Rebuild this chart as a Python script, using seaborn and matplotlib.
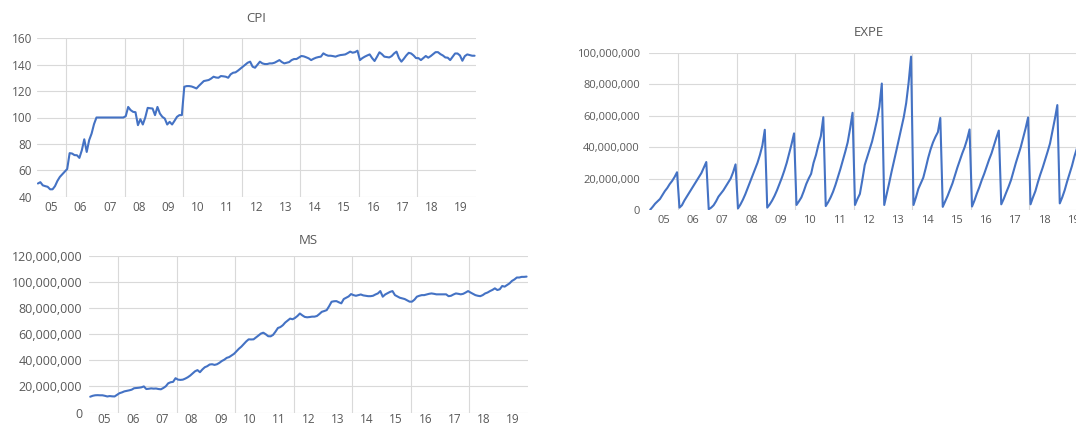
import numpy as np
import pandas as pd
import matplotlib
matplotlib.use("Agg")
import matplotlib.pyplot as plt
from matplotlib.ticker import FuncFormatter, FixedLocator
import seaborn as sns

# ---------------- data (monthly, Jan 2005 onward) ----------------
year_labels = ["05", "06", "07", "08", "09", "10", "11", "12",
               "13", "14", "15", "16", "17", "18", "19"]

cpi = [
    50, 51, 48.6, 48, 47.5, 45.6, 45.6, 48, 52, 55, 57, 59,            # 2005
    61, 73, 72.7, 71.5, 71.4, 69.4, 75.2, 83.5, 73.9, 82.8, 87.8, 95,   # 2006
    100, 100, 100, 100, 100, 100, 100, 100, 100, 100, 100, 100,        # 2007
    101, 108, 105.6, 104.3, 104, 94.2, 98.7, 94.7, 100, 107.3, 107, 106.8,  # 2008
    101.8, 108, 103, 100.5, 99.2, 94.7, 96.7, 94.7, 97.5, 100.5, 101.8, 101.8,  # 2009
    123.3, 123.8, 123.8, 123.5, 122.8, 122, 124, 125.8, 127.6, 128, 128.4, 129.5,  # 2010
    130.9, 130.3, 130.1, 131.4, 131.2, 130.9, 130.1, 132.7, 133.9, 134.2, 135.5, 137,  # 2011
    138.5, 140, 141.5, 142.3, 138.5, 137.7, 140, 142.3, 141, 140.5, 140.5, 141,  # 2012
    141, 141.5, 142.5, 143.5, 142, 141, 141.5, 142, 143.5, 144.3, 144.3, 145.5,  # 2013
    146.6, 146.3, 145.6, 144.8, 143.5, 144.5, 145.3, 145.8, 146.1, 148.6, 147.5, 146.8,  # 2014
    146.8, 146.5, 146.1, 146.8, 147.3, 147.5, 147.8, 148.8, 149.9, 149.1, 149.5, 150.6,  # 2015
    143.5, 145, 146.1, 147, 147.8, 145, 142.8, 146, 149.4, 148, 146.1, 145.8,  # 2016
    145.5, 146.5, 148.5, 149.9, 145, 142.3, 144.5, 147, 149, 148.5, 147, 145,  # 2017
    145, 143.5, 145, 146.6, 145.3, 146.5, 148, 149.5, 149.5, 148, 147, 145.5,  # 2018
    145.3, 143.5, 146, 148.5, 148.5, 147, 143, 146.5, 147.8, 147.3, 146.8, 146.8,  # 2019
]

expe_millions = [
    0.2, 2, 4, 5.5, 7, 9.5, 12, 14, 16.5, 18.5, 21, 24,          # 2005
    1.5, 3, 6, 8.5, 11, 13.5, 16, 18.5, 21, 23.5, 27, 30.5,      # 2006
    0.5, 1.5, 3, 5.5, 8.5, 10.5, 12.5, 15, 17.5, 20, 24, 29,     # 2007
    1, 3.5, 6.5, 10, 14, 18, 22, 26, 30, 35, 41, 51,             # 2008
    1.5, 3.5, 6, 9, 12.5, 16.5, 20.5, 25, 30, 36, 42, 48.7,      # 2009
    3.2, 5.5, 8, 12, 16.5, 20, 23, 30, 35, 41.5, 47, 59,         # 2010
    2.5, 5, 8, 11.6, 16, 21, 26, 31.5, 37, 43, 51.9, 61.8,       # 2011
    3.2, 7, 10.2, 19, 28.6, 33.5, 38.5, 43.5, 50, 57, 65.6, 80.4,  # 2012
    3.2, 10, 17, 24.3, 31, 38, 45, 52, 59, 68, 81, 97.5,         # 2013
    3.2, 8, 13.5, 17, 20.5, 26.5, 33, 38.5, 43, 46.5, 49.5, 58.5,  # 2014
    2, 5.5, 9, 13, 17, 22, 27, 31.5, 36, 40, 45, 51.2,           # 2015
    2.2, 6, 10.5, 14.5, 19, 23, 27.5, 32, 36, 41, 46, 50.5,      # 2016
    3.6, 7, 11, 14.8, 19, 24.5, 30, 35, 40, 46, 52, 58.8,        # 2017
    3.6, 8, 12, 17.5, 22.5, 27, 32, 37, 42.3, 50, 58, 66.7,      # 2018
    4.2, 8, 12.5, 18, 23, 28, 34, 39,                            # 2019 (visible part)
]

ms_millions = [
    12.1, 12.8, 13.2, 13.3, 13.2, 13.2, 12.8, 12.3, 12.6, 12.4, 12.3, 13.5,  # 2005
    14.8, 15.4, 16.2, 16.6, 17.0, 17.5, 18.6, 18.8, 19.0, 19.3, 20.0, 18.0,  # 2006
    18.2, 18.5, 18.3, 18.4, 18.0, 17.8, 18.8, 20.1, 22.4, 23.2, 23.5, 26.3,  # 2007
    25.2, 25.0, 25.2, 26.0, 27.0, 28.3, 30.0, 31.6, 32.5, 30.9, 33.0, 34.7,  # 2008
    35.5, 36.8, 37.0, 36.5, 37.0, 38.1, 39.5, 40.5, 41.9, 42.5, 43.7, 45.0,  # 2009
    47.0, 48.9, 50.5, 52.5, 54.5, 56.1, 56.0, 56.1, 57.5, 59.0, 60.5, 61.2,  # 2010
    60.0, 58.5, 58.4, 59.5, 62.0, 64.8, 65.5, 66.9, 69.0, 70.5, 72.0, 71.5,  # 2011
    72.5, 74.0, 75.9, 74.5, 73.3, 73.0, 73.2, 73.5, 73.5, 74.0, 75.5, 77.2,  # 2012
    77.8, 78.5, 81.5, 84.9, 85.3, 85.4, 84.5, 83.7, 87.0, 88.0, 89.0, 90.8,  # 2013
    90.0, 89.5, 90.0, 90.5, 89.8, 89.5, 89.2, 89.2, 89.5, 90.5, 91.3, 93.1,  # 2014
    88.8, 90.5, 91.5, 92.5, 93.1, 90.0, 89.0, 88.0, 87.5, 87.0, 86.0, 85.0,  # 2015
    85.0, 86.5, 88.8, 89.5, 90.0, 90.0, 90.5, 91.0, 91.3, 91.0, 90.6, 90.6,  # 2016
    90.6, 90.6, 90.6, 89.2, 89.5, 90.5, 91.3, 91.0, 90.6, 91.0, 92.0, 93.1,  # 2017
    92.0, 91.0, 90.0, 89.5, 89.2, 90.0, 91.3, 92.0, 93.1, 94.0, 95.2, 93.9,  # 2018
    94.5, 97.0, 96.5, 97.8, 99.0, 100.9, 102.0, 103.5, 103.5, 104.0, 104.0, 104.2,  # 2019
]

# ---------------- style ----------------
sns.set_style("white")
plt.rcParams["font.family"] = ["Open Sans", "DejaVu Sans"]

LINE = "#4472C4"
GRID = "#D9D9D9"
TEXT = "#595959"

n_months = len(year_labels) * 12
year_centers = [12 * i + 5.5 for i in range(len(year_labels))]
grid_bounds = [12 * i - 0.5 for i in range(1, len(year_labels), 2)]

fig = plt.figure(figsize=(10.76, 4.29), dpi=100)


def make_df(values, scale=1.0):
    return pd.DataFrame({"month": np.arange(len(values)),
                         "value": np.asarray(values, dtype=float) * scale})


def style(ax, ylim, yticks, fs, xfs, ypad, xpad, title, tpad, comma=False):
    ax.set_xlim(-0.5, n_months - 0.5)
    ax.set_ylim(*ylim)
    ax.set_yticks(yticks)
    if comma:
        ax.yaxis.set_major_formatter(FuncFormatter(lambda v, p: f"{v:,.0f}"))
    ax.xaxis.set_major_locator(FixedLocator(year_centers))
    ax.set_xticklabels(year_labels)
    ax.xaxis.set_minor_locator(FixedLocator(grid_bounds))
    ax.grid(False)
    ax.grid(True, axis="y", which="major", color=GRID, lw=0.8)
    ax.grid(True, axis="x", which="minor", color=GRID, lw=0.8)
    ax.set_axisbelow(True)
    for s in ax.spines.values():
        s.set_visible(False)
    ax.tick_params(which="both", length=0, labelcolor=TEXT)
    ax.tick_params(axis="y", pad=ypad, labelsize=fs)
    ax.tick_params(axis="x", pad=xpad, labelsize=xfs)
    ax.set_xlabel("")
    ax.set_ylabel("")
    ax.set_title(title, fontsize=9.5, color=TEXT, pad=tpad)


# CPI
ax1 = fig.add_axes([36.7 / 1076, (429 - 196.7) / 429, 439.1 / 1076, 158.4 / 429])
sns.lineplot(data=make_df(cpi), x="month", y="value", ax=ax1, color=LINE, linewidth=1.5)
style(ax1, (40, 160), range(40, 161, 20), 8.5, 8.5, 3.5, 3.0, "CPI", 12)

# EXPE (plot area runs past the right edge of the figure, as in the source)
ax2 = fig.add_axes([649 / 1076, (429 - 210) / 429, 438.8 / 1076, 157.3 / 429])
sns.lineplot(data=make_df(expe_millions, 1e6), x="month", y="value", ax=ax2,
             color=LINE, linewidth=1.5)
style(ax2, (0, 100e6), np.arange(0, 100e6 + 1, 20e6), 8.0, 8.0, 6.5, 3.5, "EXPE", 12, comma=True)

# MS
ax3 = fig.add_axes([89 / 1076, (429 - 412.5) / 429, 438.8 / 1076, 156.5 / 429])
sns.lineplot(data=make_df(ms_millions, 1e6), x="month", y="value", ax=ax3,
             color=LINE, linewidth=1.5)
style(ax3, (0, 120e6), np.arange(0, 120e6 + 1, 20e6), 9.0, 8.5, 5.0, 0.5, "MS", 9, comma=True)

fig.savefig("out.png", dpi=100)
